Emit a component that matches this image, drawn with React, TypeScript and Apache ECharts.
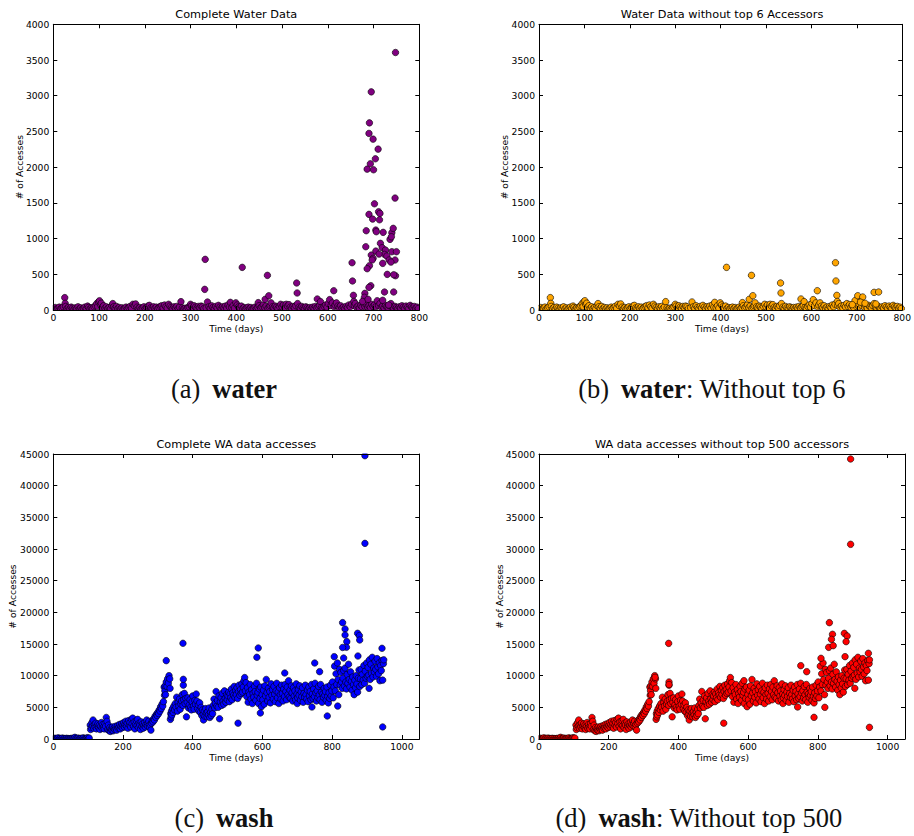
import React, { useEffect, useRef } from "react";
import * as echarts from "echarts";

// ---- tick labels ----
const waterDayTicks = [0, 100, 200, 300, 400, 500, 600, 700, 800];
const waterCountTicks = [0, 500, 1000, 1500, 2000, 2500, 3000, 3500, 4000];
const washDayTicks = [0, 200, 400, 600, 800, 1000];
const washDayMax = 1050;
const washCountTicks = [0, 5000, 10000, 15000, 20000, 25000, 30000, 35000, 40000, 45000];

// ---- water: [day, accesses] ----
// daily accesses by everyone except the six heaviest accessors
const waterShared: number[][] = [
  [1, 20], [4, 35], [7, 10], [10, 25], [13, 40], [16, 15], [19, 30], [22, 45], [25, 173], [26, 93], [27, 50],
  [30, 20], [33, 35], [36, 15], [39, 40], [42, 25], [45, 10], [48, 30], [51, 20], [54, 45], [57, 15], [60, 30],
  [63, 10], [66, 25], [69, 40], [72, 20], [75, 55], [77, 35], [80, 15], [83, 30], [86, 20], [89, 45], [92, 60],
  [95, 90], [97, 50], [99, 115], [101, 130], [103, 75], [105, 95], [107, 40], [110, 60], [113, 25], [116, 45],
  [119, 20], [122, 35], [125, 15], [128, 60], [130, 90], [132, 45], [135, 25], [138, 50], [141, 20], [144, 35],
  [147, 15], [150, 30], [153, 10], [156, 25], [159, 40], [162, 20], [165, 35], [168, 50], [171, 25], [174, 80],
  [177, 60], [180, 85], [183, 40], [186, 20], [189, 35], [192, 15], [195, 30], [198, 45], [201, 20], [204, 35],
  [207, 55], [210, 65], [213, 30], [216, 20], [219, 45], [222, 25], [225, 40], [228, 15], [231, 35], [234, 50],
  [237, 60], [240, 30], [243, 70], [246, 45], [249, 25], [252, 80], [255, 55], [258, 35], [261, 20], [264, 45],
  [267, 30], [270, 50], [273, 20], [276, 40], [279, 117], [282, 30], [285, 15], [288, 25], [291, 10], [294, 35],
  [297, 45], [300, 80], [302, 55], [305, 30], [308, 60], [311, 40], [314, 25], [317, 50], [320, 35], [323, 55],
  [326, 45], [329, 20], [334, 30], [337, 112], [340, 45], [343, 25], [346, 60], [349, 35], [352, 20], [355, 50],
  [358, 30], [361, 65], [364, 40], [367, 20], [370, 45], [373, 30], [376, 55], [379, 25], [382, 70], [385, 40],
  [387, 107], [390, 35], [393, 60], [396, 25], [399, 100], [402, 70], [405, 45], [408, 30], [411, 55], [413, 597],
  [414, 20], [417, 35], [420, 15], [423, 30], [426, 40], [429, 20], [432, 35], [435, 15], [438, 25], [441, 40],
  [444, 20], [447, 35], [448, 103], [450, 60], [453, 30], [456, 45], [459, 70], [462, 35], [463, 150], [465, 55],
  [468, 485], [469, 25], [471, 200], [472, 40], [474, 60], [476, 100], [479, 45], [482, 30], [485, 55], [488, 40],
  [491, 20], [494, 50], [497, 80], [500, 45], [503, 70], [506, 35], [509, 80], [512, 55], [515, 75], [518, 40],
  [521, 25], [524, 50], [527, 35], [530, 60], [532, 378], [533, 238], [534, 90], [537, 40], [540, 25], [543, 50],
  [546, 30], [549, 20], [552, 45], [555, 30], [558, 15], [561, 35], [564, 20], [567, 40], [570, 25], [573, 50],
  [576, 30], [577, 154], [579, 45], [582, 60], [584, 117], [586, 35], [589, 25], [592, 50], [595, 70], [598, 40],
  [601, 90], [604, 145], [607, 60], [610, 100], [613, 270], [614, 45], [616, 70], [619, 100], [622, 55], [625, 35],
  [628, 60], [631, 25], [634, 40], [637, 20], [640, 50], [643, 35], [646, 70], [649, 45], [652, 80], [653, 662],
  [654, 406], [656, 205], [657, 120], [658, 60], [660, 90], [663, 40], [666, 55], [669, 30], [672, 65], [675, 45],
  [678, 90], [681, 50], [684, 75], [687, 40], [690, 60], [693, 35], [696, 80], [699, 50], [702, 70], [705, 45],
  [708, 130], [711, 60], [714, 90], [717, 40], [720, 55], [723, 30], [726, 65], [729, 45], [732, 35], [735, 60],
  [738, 90], [741, 40], [744, 25], [747, 50], [750, 35], [753, 20], [756, 45], [759, 30], [762, 60], [765, 40],
  [768, 25], [771, 55], [774, 35], [777, 20], [780, 65], [783, 45], [786, 30], [789, 50], [792, 25], [795, 40],
  [798, 20],
];

// days dominated by the six heaviest accessors
const waterTopSix: number[][] = [
  [331, 289], [332, 709],
  [748, 3605], [695, 3054], [691, 2620], [690, 2472], [699, 2392], [710, 2252], [704, 2117], [693, 2047],
  [686, 1972], [700, 1963], [747, 1567], [702, 1487], [690, 1339], [711, 1376], [714, 1352], [698, 1273],
  [713, 1263], [684, 1110], [705, 1119], [706, 1096], [721, 1087], [740, 1082], [743, 1143], [683, 886],
  [715, 933], [736, 989], [739, 1026], [695, 769], [705, 825], [719, 872], [726, 839], [724, 779], [712, 783],
  [729, 755], [740, 816], [750, 816], [747, 700], [734, 700], [738, 671], [699, 723], [697, 700], [720, 653],
  [691, 620], [686, 578], [730, 499], [748, 480], [744, 494], [694, 340], [690, 317], [724, 252], [744, 252],
  [681, 233], [680, 178], [720, 136], [676, 120], [688, 150], [733, 70],
];

// extra daily values once the top six are removed
const waterAfterTopSix: number[][] = [
  [696, 131], [702, 200], [713, 182], [738, 247], [748, 252], [708, 110], [718, 95], [742, 85], [690, 75],
];

// ---- wash: [day, accesses] ----
const washShared: number[][] = [
  [2, 40], [5, 120], [8, 20], [11, 60], [14, 180], [17, 30], [20, 90], [23, 10], [26, 150], [29, 50], [32, 70],
  [35, 20], [38, 110], [41, 40], [44, 60], [47, 15], [50, 80], [53, 30], [56, 130], [59, 50], [62, 260], [65, 90],
  [68, 40], [71, 150], [74, 20], [77, 70], [80, 100], [83, 30], [86, 180], [89, 60], [92, 40], [95, 120], [98, 200],
  [101, 80], [103, 150],
  [106, 2200], [107, 1500], [109, 1800], [111, 2600], [113, 2000], [114, 3000], [116, 1700], [118, 2300],
  [120, 1900], [122, 2500], [124, 1600], [126, 2100], [128, 2400], [130, 1800], [132, 2200], [134, 1500],
  [136, 2000], [138, 2600], [140, 1700], [142, 2300], [144, 1900], [146, 1600], [148, 2400], [150, 2000],
  [152, 3400], [154, 2800], [156, 1500], [158, 2200], [160, 1300],
  [162, 1800], [164, 1200], [166, 1600], [168, 1400], [170, 1900], [172, 1300], [174, 1700], [176, 1500],
  [178, 2000], [180, 1600], [182, 1400], [184, 2100], [186, 1700], [188, 1900], [190, 2300], [192, 1600],
  [194, 2000], [196, 2400], [198, 1800], [200, 2200],
  [202, 2600], [204, 1900], [206, 2300], [208, 2800], [210, 2000], [212, 2500], [214, 1700], [216, 2900],
  [218, 2200], [220, 2600], [222, 1900], [224, 3100], [226, 2400], [228, 3300], [230, 2000], [232, 2700],
  [234, 1600], [236, 2300], [238, 2900], [240, 2100], [242, 3100], [244, 1800], [246, 2500], [248, 2200],
  [250, 1500], [252, 2700], [254, 2000], [256, 2400], [258, 1700], [260, 2200], [262, 2600], [264, 1900],
  [266, 2300], [268, 3000], [270, 2100], [272, 2500], [274, 2800], [276, 1900], [278, 2300], [280, 1400],
  [282, 2500], [284, 2900], [286, 2700], [288, 3200], [290, 3000], [292, 3600], [294, 3400], [296, 3900],
  [298, 3700], [300, 4200], [302, 4000], [304, 4600], [306, 4400], [308, 5100], [310, 4800], [312, 5500],
  [314, 5200], [316, 5900], [318, 8200], [319, 6900], [320, 7600], [321, 8400], [322, 7000], [324, 9000],
  [326, 8300], [328, 9500], [330, 8800], [332, 10000], [334, 9500], [335, 8000],
  [336, 3100], [337, 4000], [338, 3500], [339, 4400], [340, 3800], [342, 4800], [344, 4200], [346, 5200],
  [348, 4600], [350, 5600],
  [352, 5000], [354, 6600], [356, 4400], [358, 5800], [360, 5200], [362, 6300], [364, 4700], [366, 5500],
  [368, 6000], [370, 7000], [372, 5300], [373, 8500], [374, 6200], [376, 7200], [378, 5600], [380, 6400],
  [382, 3500], [384, 5800], [386, 6500], [388, 4900], [390, 5400], [392, 6200], [394, 5000], [396, 4600],
  [398, 5900], [400, 6800], [402, 5200], [404, 4700], [406, 6100], [408, 5500], [410, 7100], [412, 6000],
  [414, 4800], [416, 5400], [418, 4400], [420, 5700],
  [422, 4200], [424, 5000], [426, 3700], [428, 4600], [430, 3900], [431, 3000], [433, 4400], [435, 3600],
  [437, 4800], [439, 4100], [441, 3500], [443, 4300], [445, 3800], [447, 4900], [449, 3400], [451, 4200],
  [453, 3700], [455, 4700], [457, 4000], [459, 5300],
  [461, 6300], [463, 4900], [465, 5700], [467, 7500], [469, 5200], [471, 6100], [473, 5000], [475, 6800],
  [477, 3200], [479, 5900], [481, 6500], [483, 5300], [485, 7200], [487, 6000], [489, 5500], [491, 7600],
  [493, 6400], [495, 5800], [497, 7000], [499, 6200],
  [501, 6800], [503, 7400], [505, 5900], [507, 7100], [509, 6500], [511, 7900], [513, 6200], [515, 7300],
  [517, 6900], [519, 8300], [521, 6600], [523, 7700], [525, 7000], [527, 8100], [529, 6400], [530, 2500],
  [531, 7500], [533, 8500], [535, 6900], [537, 7800], [539, 7200], [541, 8700], [543, 7400], [545, 8200],
  [547, 9200], [549, 9700],
  [551, 7600], [553, 8900], [555, 6700], [557, 8100], [559, 5800], [561, 7400], [563, 7000], [565, 8600],
  [567, 6300], [569, 7800], [571, 5600], [573, 7200], [575, 6600], [577, 8300], [579, 7500], [581, 6100],
  [583, 8800], [585, 6900], [587, 7400], [589, 5600], [591, 7900], [593, 6400], [595, 8200], [597, 5100],
  [599, 7000],
  [601, 6200], [603, 7700], [605, 5500], [607, 8400], [609, 6800], [611, 9400], [613, 7300], [615, 6000],
  [617, 8000], [619, 6600], [621, 7500], [623, 5700], [625, 8700], [627, 6900], [629, 7800], [631, 6300],
  [633, 8300], [635, 7100], [637, 5900], [639, 7600], [641, 8800], [643, 6500], [645, 7400], [647, 5600],
  [649, 8100], [651, 7000], [653, 6300], [655, 8500], [657, 7200], [659, 6000], [661, 7900], [663, 6700],
  [665, 8600], [667, 7500], [669, 6200], [671, 8200], [673, 7000], [675, 9200], [677, 6600], [679, 7700],
  [681, 6400], [683, 8400], [685, 7300], [687, 6000], [689, 8100], [691, 6800], [693, 7600], [695, 6200],
  [697, 8700], [699, 7100],
  [700, 5600], [701, 6500], [703, 7800], [705, 6900], [707, 8400], [709, 6100], [711, 7400], [713, 6700],
  [715, 8100], [717, 5800], [719, 7200], [721, 6600], [723, 8500], [725, 7000], [727, 6300], [729, 7700],
  [731, 5900], [733, 8200], [735, 6800], [737, 7500], [739, 6200], [741, 8600], [742, 5050], [743, 7100],
  [745, 6400], [747, 7900], [749, 6700], [751, 8800], [753, 7300], [755, 6000], [757, 7600], [759, 6500],
  [761, 8300], [763, 7000], [765, 6200], [767, 8600], [769, 7400], [771, 5800], [773, 7100], [775, 6600],
  [777, 8000], [779, 6900], [781, 7500], [783, 6100], [785, 8200], [787, 6700], [789, 5700], [791, 7300],
  [793, 6400], [795, 8500], [797, 6800], [799, 7600],
  [801, 9000], [803, 6500], [805, 8200], [807, 11500], [809, 7600], [811, 10300], [813, 8600], [815, 12000],
  [817, 9400], [819, 7000], [821, 11000], [823, 8500], [825, 10500], [827, 9000], [829, 8000],
  [831, 9600], [833, 10800], [835, 8400], [837, 11200], [839, 9000], [841, 7900], [843, 10200], [845, 8800],
  [847, 11800], [849, 9400], [851, 8200], [853, 10600], [855, 9100], [857, 7700], [859, 9800], [861, 8600],
  [863, 7000], [865, 9300], [867, 8100], [869, 10000], [871, 8700], [873, 7400], [875, 9600], [877, 10900],
  [879, 8300],
  [881, 9500], [883, 11000], [885, 8600], [887, 10200], [889, 9300], [891, 11600], [893, 8800], [895, 10700],
  [897, 9600], [899, 12000], [901, 9900], [903, 11300], [905, 10100], [906, 8000], [907, 12500], [909, 9400],
  [911, 11800], [913, 10400], [915, 12900], [917, 9800], [919, 11200], [921, 10600], [923, 12300],
  [925, 11000], [927, 9900], [929, 12700], [931, 11400], [933, 10300], [935, 12000], [937, 9200],
  [939, 11600], [941, 10800], [943, 12400], [945, 9300], [947, 11900], [948, 12500],
];

// days where the top 500 accessors pushed totals higher
const washCompleteExtra: number[][] = [
  [324, 12370], [372, 15110], [373, 9420], [584, 12900], [588, 14370], [594, 4100], [664, 10420],
  [750, 12000], [764, 10630], [786, 3630], [806, 13000], [816, 5200], [830, 18370], [837, 17370],
  [837, 16420], [842, 15370], [841, 14480], [830, 14450], [833, 12790], [873, 16690], [878, 16320],
  [879, 15630], [874, 13100], [894, 44730], [894, 30890], [943, 14320], [945, 1900],
];

const washFilteredExtra: number[][] = [
  [333, 9740], [372, 15100], [373, 9000], [373, 8600], [588, 9210], [751, 11580], [768, 10630],
  [789, 3420], [809, 12740], [820, 5000], [833, 18370], [831, 14470], [842, 16530], [839, 15740],
  [844, 14740], [876, 16680], [884, 16260], [881, 15370], [878, 13000], [894, 44210], [894, 30740],
  [945, 13530], [948, 1840],
];

type Panel = {
  title: string;
  tag: string;
  word: string;
  rest: string;
  color: string;
  points: number[][];
  left: number;
  top: number;
  width: number;
  height: number;
  dayTicks: number[];
  dayMax: number;
  countTicks: number[];
  yNameX: number;
  titleY: number;
  capX: number;
  capY: number;
};

const panels: Panel[] = [
  {
    title: "Complete Water Data", tag: "(a)", word: "water", rest: "", color: "#800080",
    points: waterShared.concat(waterTopSix),
    left: 53.3, top: 24.3, width: 366, height: 285.7,
    dayTicks: waterDayTicks, dayMax: 800, countTicks: waterCountTicks,
    yNameX: 19, titleY: 14, capX: 224, capY: 389,
  },
  {
    title: "Water Data without top 6 Accessors", tag: "(b)", word: "water", rest: ": Without top 6", color: "#FFA500",
    points: waterShared.concat(waterAfterTopSix),
    left: 539, top: 24.3, width: 366, height: 285.7,
    dayTicks: waterDayTicks, dayMax: 800, countTicks: waterCountTicks,
    yNameX: 504, titleY: 14, capX: 712, capY: 389,
  },
  {
    title: "Complete WA data accesses", tag: "(c)", word: "wash", rest: "", color: "#0000FF",
    points: washShared.concat(washCompleteExtra),
    left: 53.3, top: 454, width: 366, height: 285,
    dayTicks: washDayTicks, dayMax: washDayMax, countTicks: washCountTicks,
    yNameX: 12.5, titleY: 444, capX: 224, capY: 818,
  },
  {
    title: "WA data accesses without top 500 accessors", tag: "(d)", word: "wash", rest: ": Without top 500", color: "#FF0000",
    points: washShared.concat(washFilteredExtra),
    left: 539, top: 454, width: 366, height: 285,
    dayTicks: washDayTicks, dayMax: washDayMax, countTicks: washCountTicks,
    yNameX: 499, titleY: 444, capX: 699, capY: 818,
  },
];

const SANS = "DejaVu Sans";
const SERIF = "Liberation Serif";

function buildOption(): echarts.EChartsCoreOption {
  const grid: any[] = [];
  const xAxis: any[] = [];
  const yAxis: any[] = [];
  const series: any[] = [];
  const graphic: any[] = [];

  const axisLine = { show: true, onZero: false, lineStyle: { color: "#000", width: 1 } };
  const axisTick = { show: true, inside: true, length: 4, lineStyle: { color: "#000", width: 1 } };
  const labelStyle = { color: "#000", fontFamily: SANS, fontSize: 9.2 };

  panels.forEach((p, i) => {
    grid.push({ left: p.left, top: p.top, width: p.width, height: p.height, show: false });

    const xCommon = {
      type: "value", gridIndex: i, min: p.dayTicks[0], max: p.dayMax,
      interval: p.dayTicks[1] - p.dayTicks[0], splitLine: { show: false }, axisLine, axisTick, z: 10,
    };
    xAxis.push({
      ...xCommon, position: "bottom",
      axisLabel: {
        ...labelStyle, margin: 3,
        formatter: (v: number) => (p.dayTicks.indexOf(v) >= 0 ? String(v) : ""),
      },
    });
    xAxis.push({ ...xCommon, position: "top", axisLabel: { show: false } });

    const yCommon = {
      type: "value", gridIndex: i, min: p.countTicks[0], max: p.countTicks[p.countTicks.length - 1],
      interval: p.countTicks[1] - p.countTicks[0], splitLine: { show: false }, axisLine, axisTick, z: 10,
    };
    yAxis.push({
      ...yCommon, position: "left",
      axisLabel: { ...labelStyle, margin: 4, formatter: (v: number) => String(v) },
    });
    yAxis.push({ ...yCommon, position: "right", axisLabel: { show: false } });

    series.push({
      type: "scatter", xAxisIndex: i * 2, yAxisIndex: i * 2, data: p.points,
      symbol: "circle", symbolSize: 6.5, z: 2,
      itemStyle: { color: p.color, borderColor: "#000", borderWidth: 0.6, opacity: 1 },
      emphasis: { disabled: true },
    });

    // white margins so markers stop at the frame
    const pad = 6;
    const cover = { fill: "#fff" };
    graphic.push(
      { type: "rect", z: 5, silent: true, shape: { x: p.left - pad, y: p.top + p.height + 0.5, width: p.width + pad * 2, height: pad }, style: cover },
      { type: "rect", z: 5, silent: true, shape: { x: p.left - pad, y: p.top - pad - 0.5, width: p.width + pad * 2, height: pad }, style: cover },
      { type: "rect", z: 5, silent: true, shape: { x: p.left - pad - 0.5, y: p.top - pad, width: pad, height: p.height + pad * 2 }, style: cover },
      { type: "rect", z: 5, silent: true, shape: { x: p.left + p.width + 0.5, y: p.top - pad, width: pad, height: p.height + pad * 2 }, style: cover },
    );

    // panel title
    graphic.push({
      type: "text", z: 20, x: p.left + p.width / 2, y: p.titleY,
      style: { text: p.title, fontFamily: SANS, fontSize: 11.3, fill: "#000", align: "center", verticalAlign: "middle" },
    });
    // axis names
    graphic.push({
      type: "text", z: 20, x: p.left + p.width / 2, y: p.top + p.height + 18,
      style: { text: "Time (days)", fontFamily: SANS, fontSize: 9.2, fill: "#000", align: "center", verticalAlign: "middle" },
    });
    graphic.push({
      type: "text", z: 20, x: p.yNameX, y: p.top + p.height / 2, rotation: Math.PI / 2,
      style: { text: "# of Accesses", fontFamily: SANS, fontSize: 9.2, fill: "#000", align: "center", verticalAlign: "middle" },
    });
    // sub-figure caption
    graphic.push({
      type: "text", z: 20, x: p.capX, y: p.capY,
      style: {
        text: `{n|${p.tag}\u00a0\u2009}{b|${p.word}}` + (p.rest ? `{n|${p.rest}}` : ""),
        align: "center", verticalAlign: "middle",
        rich: {
          n: { fontFamily: SERIF, fontSize: 26.5, fill: "#111" },
          b: { fontFamily: SERIF, fontSize: 26.5, fontWeight: "bold", fill: "#111" },
        },
      },
    });
  });

  return {
    animation: false,
    backgroundColor: "#fff",
    grid, xAxis, yAxis, series, graphic,
  };
}

export default function App() {
  const ref = useRef<HTMLDivElement>(null);
  useEffect(() => {
    if (!ref.current) return;
    const chart = echarts.init(ref.current, null, { renderer: "svg" });
    chart.setOption(buildOption());
    return () => chart.dispose();
  }, []);
  return (
    <div
      ref={ref}
      style={{ position: "absolute", left: 0, top: 0, width: 914, height: 836, background: "#fff" }}
    />
  );
}
